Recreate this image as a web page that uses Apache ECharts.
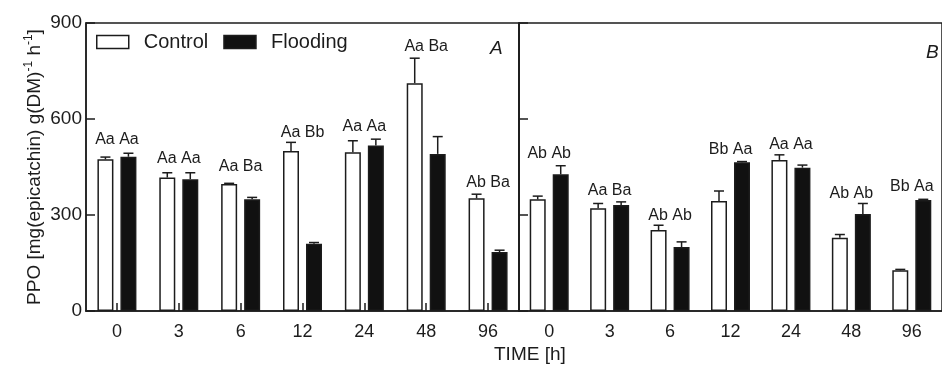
<!DOCTYPE html>
<html>
<head>
<meta charset="utf-8">
<script src="https://cdn.jsdelivr.net/npm/echarts@6/dist/echarts.min.js"></script>
<style>
html,body{margin:0;padding:0;background:#fff;}
#chart{width:942px;height:365px;}
</style>
</head>
<body>
<div id="chart"></div>
<script>
// ---- data ----
const categories = ['0', '3', '6', '12', '24', '48', '96'];
const yTicks = [0, 300, 600, 900];

// Panel A
const controlA = [474, 417, 397, 500, 496, 712, 352];
const controlAErr = [7, 15, 2, 27, 36, 78, 13];
const floodingA = [482, 412, 349, 210, 517, 491, 184];
const floodingAErr = [11, 20, 6, 4, 20, 54, 6];
const lettersA = ['Aa Aa', 'Aa Aa', 'Aa Ba', 'Aa Bb', 'Aa Aa', 'Aa Ba', 'Ab Ba'];
const letterLevelA = [537, 477, 451, 557, 576, 826, 401];

// Panel B
const controlB = [349, 321, 253, 344, 472, 229, 127];
const controlBErr = [10, 15, 15, 31, 16, 10, 3];
const floodingB = [427, 331, 200, 465, 448, 303, 347];
const floodingBErr = [27, 10, 16, 2, 8, 33, 2];
const lettersB = ['Ab Ab', 'Aa Ba', 'Ab Ab', 'Bb Aa', 'Aa Aa', 'Ab Ab', 'Bb Aa'];
const letterLevelB = [493, 376, 298, 505, 519, 368, 388];

// ---- styles ----
const INK = '#1c1c1c';
const FONT = 'Liberation Sans, Arial, sans-serif';
const BAR_W = 16;
const BAR_GAP_PX = 7;
const OFFSET = (BAR_W + BAR_GAP_PX) / 2;

const chart = echarts.init(document.getElementById('chart'));

function errData(vals, errs) {
  return vals.map((v, i) => [i, v, errs[i]]);
}
function errSeries(idx, vals, errs, sign) {
  return {
    type: 'custom',
    xAxisIndex: idx, yAxisIndex: idx,
    z: 5,
    silent: true,
    data: errData(vals, errs),
    renderItem: function (params, api) {
      const i = api.value(0), v = api.value(1), e = api.value(2);
      const b = api.coord([i, v]);
      const t = api.coord([i, v + e]);
      const x = b[0] + sign * OFFSET;
      const style = { stroke: INK, lineWidth: 1.5 };
      return {
        type: 'group',
        children: [
          { type: 'line', shape: { x1: x, y1: b[1], x2: x, y2: t[1] }, style: style },
          { type: 'line', shape: { x1: x - 5, y1: t[1], x2: x + 5, y2: t[1] }, style: style }
        ]
      };
    }
  };
}
function letterSeries(idx, letters, levels) {
  return {
    type: 'custom',
    xAxisIndex: idx, yAxisIndex: idx,
    z: 6,
    silent: true,
    data: levels.map((l, i) => [i, l]),
    renderItem: function (params, api) {
      const p = api.coord([api.value(0), api.value(1)]);
      return {
        type: 'text',
        x: p[0], y: p[1],
        style: {
          text: letters[params.dataIndex],
          fill: INK,
          font: '16px ' + FONT,
          align: 'center',
          verticalAlign: 'middle'
        }
      };
    }
  };
}
function barSeries(name, idx, vals, fill) {
  return {
    name: name,
    type: 'bar',
    xAxisIndex: idx, yAxisIndex: idx,
    barWidth: BAR_W,
    barGap: (BAR_GAP_PX / BAR_W * 100) + '%',
    data: vals,
    itemStyle: { color: fill, borderColor: INK, borderWidth: 1.5 },
    emphasis: { disabled: true }
  };
}

const yAxisBase = {
  type: 'value',
  min: yTicks[0], max: yTicks[yTicks.length - 1], interval: yTicks[1] - yTicks[0],
  splitLine: { show: false },
  axisLine: { show: true, lineStyle: { color: INK, width: 1.5 } },
  axisTick: { show: true, inside: true, length: 9, lineStyle: { color: INK, width: 1.5 } }
};

const option = {
  animation: false,
  backgroundColor: '#fff',
  textStyle: { fontFamily: FONT },
  grid: [
    { left: 86, top: 23, width: 433, height: 288, show: true, borderColor: INK, borderWidth: 1.5, backgroundColor: 'transparent' },
    { left: 519, top: 23, width: 431, height: 288, show: true, borderColor: INK, borderWidth: 1.5, backgroundColor: 'transparent' }
  ],
  legend: {
    left: 91, top: 27,
    icon: 'rect',
    itemWidth: 32, itemHeight: 13, itemGap: 15,
    selectedMode: false,
    data: ['Control', 'Flooding'],
    itemStyle: { borderWidth: 1.5, borderColor: INK },
    textStyle: { fontSize: 20, color: INK, fontFamily: FONT, padding: [0, 0, 0, 10] }
  },
  title: [
    { text: 'TIME [h]', left: 489, top: 340,
      textStyle: { fontSize: 19, fontWeight: 'normal', color: INK, fontFamily: FONT } },
    { text: 'A', left: 485, top: 34,
      textStyle: { fontSize: 19, fontWeight: 'normal', fontStyle: 'italic', color: INK, fontFamily: FONT } },
    { text: 'B', left: 921, top: 38,
      textStyle: { fontSize: 19, fontWeight: 'normal', fontStyle: 'italic', color: INK, fontFamily: FONT } }
  ],
  xAxis: [
    { type: 'category', gridIndex: 0, data: categories,
      axisLine: { show: true, lineStyle: { color: INK, width: 1.5 } },
      axisTick: { show: true, inside: true, alignWithLabel: true, length: 8, lineStyle: { color: INK, width: 1.5 } },
      axisLabel: { fontSize: 18, color: INK, margin: 12, fontFamily: FONT } },
    { type: 'category', gridIndex: 1, data: categories,
      axisLine: { show: true, lineStyle: { color: INK, width: 1.5 } },
      axisTick: { show: false },
      axisLabel: { fontSize: 18, color: INK, margin: 12, fontFamily: FONT } }
  ],
  yAxis: [
    Object.assign({}, yAxisBase, {
      gridIndex: 0,
      axisLabel: { fontSize: 19, color: INK, margin: 4, fontFamily: FONT },
      name: 'PPO [mg(epicatchin) g(DM){sup|-1} h{sup|-1}]',
      nameLocation: 'middle',
      nameGap: 39,
      nameRotate: 90,
      nameTextStyle: {
        fontSize: 19, color: INK, fontFamily: FONT, lineHeight: 24,
        rich: { sup: { fontSize: 12, color: INK, fontFamily: FONT, verticalAlign: 'top', lineHeight: 24, padding: [0, 0, 8, 0] } }
      }
    }),
    Object.assign({}, yAxisBase, {
      gridIndex: 1,
      axisLabel: { show: false }
    })
  ],
  series: [
    barSeries('Control', 0, controlA, '#ffffff'),
    barSeries('Flooding', 0, floodingA, '#111111'),
    barSeries('Control', 1, controlB, '#ffffff'),
    barSeries('Flooding', 1, floodingB, '#111111'),
    errSeries(0, controlA, controlAErr, -1),
    errSeries(0, floodingA, floodingAErr, 1),
    errSeries(1, controlB, controlBErr, -1),
    errSeries(1, floodingB, floodingBErr, 1),
    letterSeries(0, lettersA, letterLevelA),
    letterSeries(1, lettersB, letterLevelB)
  ]
};
chart.setOption(option);
</script>
</body>
</html>
